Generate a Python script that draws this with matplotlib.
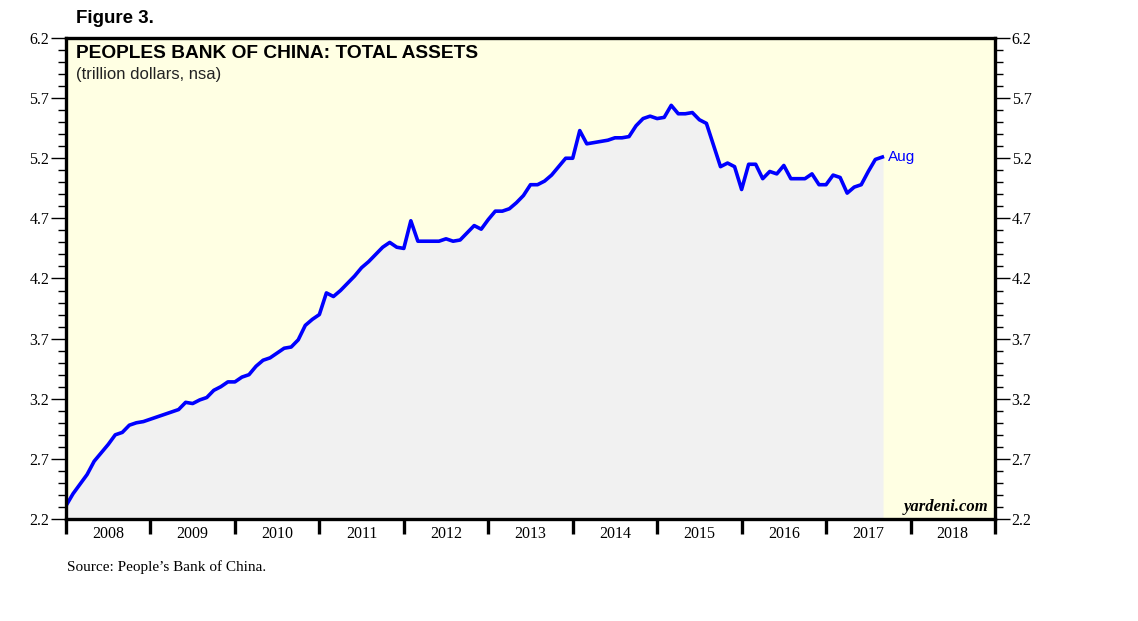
import matplotlib.pyplot as plt
import numpy as np
from matplotlib.ticker import FixedLocator, MultipleLocator, NullFormatter

# monthly total assets, trillion dollars (Dec 2007 .. Aug 2017)
start_year = 2008
assets = [
    2.31, 2.41, 2.49, 2.57, 2.68, 2.75, 2.82, 2.90, 2.92, 2.98, 3.00, 3.01,
    3.03, 3.05, 3.07, 3.09, 3.11, 3.17, 3.16, 3.19, 3.21, 3.27, 3.30, 3.34,
    3.34, 3.38, 3.40, 3.47, 3.52, 3.54, 3.58, 3.62, 3.63, 3.69, 3.81, 3.86,
    3.90, 4.08, 4.05, 4.10, 4.16, 4.22, 4.29, 4.34, 4.40, 4.46, 4.50, 4.46,
    4.45, 4.68, 4.51, 4.51, 4.51, 4.51, 4.53, 4.51, 4.52, 4.58, 4.64, 4.61,
    4.69, 4.76, 4.76, 4.78, 4.83, 4.89, 4.98, 4.98, 5.01, 5.06, 5.13, 5.20,
    5.20, 5.43, 5.32, 5.33, 5.34, 5.35, 5.37, 5.37, 5.38, 5.47, 5.53, 5.55,
    5.53, 5.54, 5.64, 5.57, 5.57, 5.58, 5.52, 5.49, 5.31, 5.13, 5.16, 5.13,
    4.94, 5.15, 5.15, 5.03, 5.09, 5.07, 5.14, 5.03, 5.03, 5.03, 5.07, 4.98,
    4.98, 5.06, 5.04, 4.91, 4.96, 4.98, 5.09, 5.19, 5.21,
]
years = list(range(2008, 2019))
last_label = 'Aug'

x = start_year + np.arange(len(assets)) / 12.0
y = np.array(assets)

fig = plt.figure(figsize=(11.38, 6.21), dpi=100)
ax = fig.add_axes([0.058, 0.1643, 0.8163, 0.7745])
ax.set_facecolor('#ffffe3')

ax.fill_between(x, 2.2, y, color='#f1f1f1', zorder=1)
ax.plot(x, y, color='#0000ff', lw=2.6, zorder=3, solid_joinstyle='round')
ax.text(x[-1] + 0.07, y[-1], last_label, color='#0000ff', fontsize=11,
        family='Liberation Sans', va='center', ha='left')

ax.set_xlim(2008, 2019)
ax.set_ylim(2.2, 6.2)

for s in ax.spines.values():
    s.set_linewidth(2.4)
    s.set_zorder(5)

# y axis: both sides, outward ticks
ax.yaxis.set_minor_locator(MultipleLocator(0.1))
ticks = np.arange(2.2, 6.21, 0.5)
ax.set_yticks(ticks)
ax.set_yticklabels([f'{v:.1f}' for v in ticks])
ax.tick_params(axis='y', which='major', direction='out', length=11, width=1,
               left=True, right=True, labelleft=True, labelright=True,
               labelsize=11.5, pad=1)
ax.tick_params(axis='y', which='minor', direction='out', length=6, width=1,
               left=True, right=True)
for lab in ax.get_yticklabels():
    lab.set_fontfamily('Liberation Serif')

# x axis: year boundary ticks, labels mid-year
ax.xaxis.set_major_locator(FixedLocator(list(range(2008, 2020))))
ax.xaxis.set_major_formatter(NullFormatter())
ax.xaxis.set_minor_locator(FixedLocator([yr + 0.5 for yr in years]))
ax.set_xticklabels([str(yr) for yr in years], minor=True,
                   family='Liberation Serif', fontsize=11.5)
ax.tick_params(axis='x', which='major', direction='out', length=11, width=2.4,
               top=False)
ax.tick_params(axis='x', which='minor', length=0, pad=5, top=False)

ax.text(0.011, 0.986, 'PEOPLES BANK OF CHINA: TOTAL ASSETS', transform=ax.transAxes,
        fontsize=13.8, fontweight='bold', family='Liberation Sans', va='top')
ax.text(0.011, 0.939, '(trillion dollars, nsa)', transform=ax.transAxes,
        fontsize=12, family='Liberation Sans', va='top', color='#222222')
ax.text(0.993, 0.008, 'yardeni.com', transform=ax.transAxes, fontsize=12,
        family='Liberation Serif', style='italic', fontweight='bold',
        ha='right', va='bottom')

fig.text(0.067, 0.97, 'Figure 3.', fontsize=13.5, fontweight='bold',
         family='Liberation Sans', va='center')
fig.text(0.059, 0.087, 'Source: People\u2019s Bank of China.', fontsize=11,
         family='Liberation Serif', va='center')

fig.savefig('out.png', dpi=100)
